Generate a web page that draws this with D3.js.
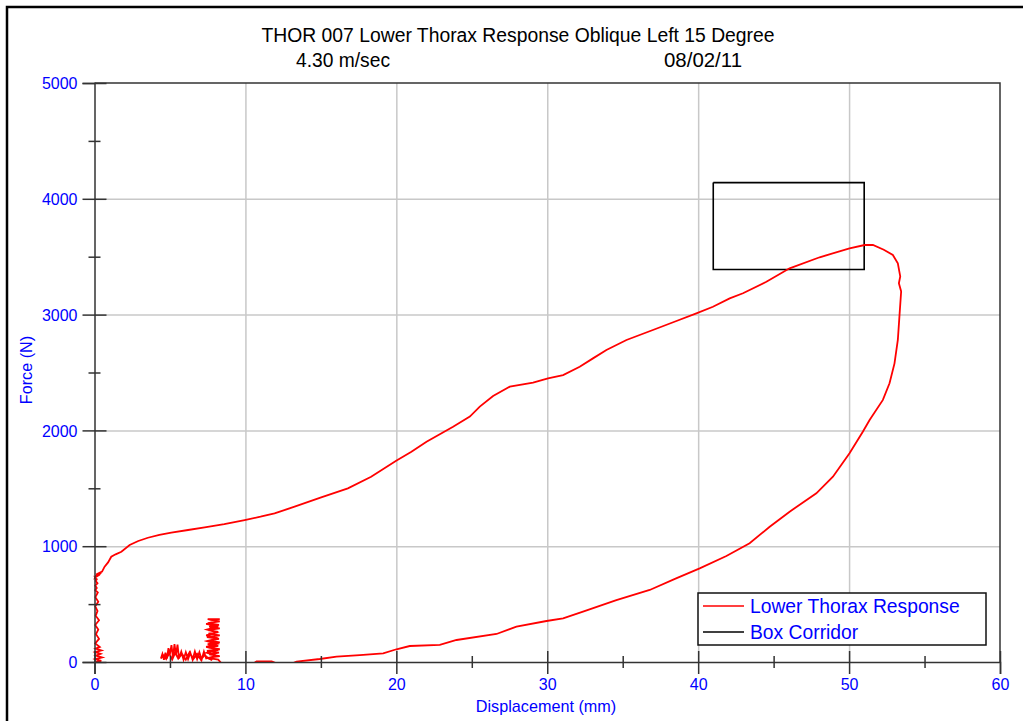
<!DOCTYPE html>
<html>
<head>
<meta charset="utf-8">
<script src="https://cdn.jsdelivr.net/npm/d3@7"></script>
<style>
  html, body { margin: 0; padding: 0; background: #ffffff; }
  svg { display: block; }
</style>
</head>
<body>
<div id="chart"></div>
<script>
// ---------------- data ----------------
const titleText = "THOR 007 Lower Thorax Response Oblique Left 15 Degree";
const subLeft = "4.30 m/sec";
const subRight = "08/02/11";
const xLabel = "Displacement (mm)";
const yLabel = "Force (N)";
const seriesNames = ["Lower Thorax Response", "Box Corridor"];
const seriesColors = ["#ff0000", "#000000"];

const xMajorTicks = [0, 10, 20, 30, 40, 50, 60];
const xMinorTicks = [5, 15, 25, 35, 45, 55];
const yMajorTicks = [0, 1000, 2000, 3000, 4000, 5000];
const yMinorTicks = [500, 1500, 2500, 3500, 4500];

// Lower thorax response (displacement mm, force N)
const responseDisp = [
  // noisy start near zero displacement
  0.10,0.45,0.05,0.50,0.10,0.40,0.05,0.45,0.08,0.35,0.05,0.30,0.10,0.25,0.05,0.30,0.08,0.20,0.05,0.25,
  0.06,0.22,0.05,0.15,0.05,0.20,0.08,0.15,0.05,0.12,0.05,0.10,0.05,0.35,0.05,0.40,0.10,0.45,0.10,0.50,
  // loading
  0.67,0.90,1.11,1.40,1.78,2.33,2.90,3.54,4.30,5.09,6.20,7.30,8.60,
  9.95,11.00,11.93,13.26,15.02,16.79,18.33,19.99,21.00,22.00,23.76,24.87,25.53,26.41,27.52,29.06,30.05,31.05,32.15,33.03,
  33.92,35.25,37.00,38.56,39.88,40.98,42.09,42.97,44.52,46.06,48.05,50.03,51.03,51.58,52.30,52.90,53.23,53.39,53.30,53.45,
  // unloading
  53.35,53.23,53.01,52.68,52.24,51.36,50.91,50.03,48.93,47.83,46.06,44.74,43.41,41.87,40.10,38.50,36.79,34.58,32.37,31.05,
  29.95,27.96,26.64,23.99,22.88,20.89,20.01,19.13,17.58,16.04,14.93,13.39,12.60,11.74,10.74,10.20,8.60,
  // noisy tail: vertical band
  8.20,7.50,8.30,7.60,8.25,7.45,8.30,7.55,8.20,7.50,8.30,7.60,8.25,7.45,8.30,7.55,8.20,7.50,8.30,7.60,
  8.25,7.50,8.30,7.60,8.30,7.50,8.10,7.40,8.20,7.45,8.10,7.40,8.20,7.45,8.10,7.40,8.20,7.45,8.10,7.40,
  // horizontal band leftwards
  7.25,7.10,6.95,6.80,6.65,6.50,6.35,6.20,6.05,5.90,5.75,5.60,5.50,5.40,5.30,5.20,5.10,5.00,4.90,4.80,
  4.70,4.60,4.50,4.40,
  // back rightwards
  4.55,4.75,4.95,5.15,5.35,5.55,5.80,6.05,6.30,6.55,6.80,7.05,7.30,7.55,7.80
];
const responseForce = [
  0,10,25,40,55,70,85,100,115,130,160,200,240,280,320,360,400,440,480,520,
  560,600,620,640,660,680,700,715,725,700,735,745,730,755,740,760,745,770,755,780,
  823,860,909,930,952,1010,1045,1073,1098,1117,1140,1163,1190,
  1226,1255,1284,1341,1422,1500,1600,1738,1815,1902,2032,2119,2205,2297,2378,2412,2450,2478,2550,2622,
  2694,2781,2867,2945,3011,3068,3140,3184,3284,3400,3495,3572,3601,3601,3560,3515,3443,3330,3270,3200,
  3011,2781,2579,2407,2263,2090,1989,1802,1600,1457,1298,1168,1025,915,809,720,622,535,435,377,
  354,305,242,190,147,138,110,75,60,46,26,3,-40,5,5,-40,-40,
  20,35,50,65,80,95,110,125,140,155,170,185,200,215,230,245,260,275,290,305,
  320,335,350,365,371,371,355,330,305,280,255,230,205,180,155,130,105,80,55,30,
  90,20,85,25,90,20,80,25,85,20,90,30,150,60,155,40,145,70,120,30,
  80,20,70,30,
  60,25,75,20,80,30,70,20,85,25,70,20,60,30,15
];

// Box corridor corners
const boxDisp = [41, 51, 51, 41, 41];
const boxForce = [4140, 4140, 3390, 3390, 4140];

// ---------------- layout ----------------
const W = 1023, H = 721;
const x = d3.scaleLinear().domain([0, 60]).range([94.5, 1000]);
const y = d3.scaleLinear().domain([0, 5000]).range([662, 83]);

const svg = d3.select("#chart").append("svg")
  .attr("width", W).attr("height", H)
  .style("background", "#fff");

const BLUE = "#0000ff";
const FONT = "'Liberation Sans', Arial, sans-serif";

// outer frame (top and left edges)
svg.append("path")
  .attr("d", `M7,${H} L7,7 L${W},7`)
  .attr("fill", "none").attr("stroke", "#000").attr("stroke-width", 2.5);

// title
svg.append("text")
  .attr("x", 518).attr("y", 42)
  .attr("text-anchor", "middle")
  .attr("font-family", FONT).attr("font-size", 19.5)
  .attr("textLength", 513).attr("lengthAdjust", "spacingAndGlyphs")
  .attr("fill", "#000").text(titleText);
svg.append("text")
  .attr("x", 343).attr("y", 67).attr("text-anchor", "middle")
  .attr("font-family", FONT).attr("font-size", 19.5)
  .attr("textLength", 94).attr("lengthAdjust", "spacingAndGlyphs")
  .attr("fill", "#000").text(subLeft);
svg.append("text")
  .attr("x", 703).attr("y", 67).attr("text-anchor", "middle")
  .attr("font-family", FONT).attr("font-size", 19.5)
  .attr("textLength", 78).attr("lengthAdjust", "spacingAndGlyphs")
  .attr("fill", "#000").text(subRight);

// grid lines
const gx = svg.append("g").attr("transform", `translate(0,${y(0)})`)
  .call(d3.axisBottom(x).tickValues(xMajorTicks.slice(1, -1)).tickSize(-(y(0) - y(5000))).tickFormat(""));
gx.select(".domain").remove();
gx.selectAll(".tick line").attr("stroke", "#c8c8c8").attr("stroke-width", 1.5);

const gy = svg.append("g").attr("transform", `translate(${x(0)},0)`)
  .call(d3.axisLeft(y).tickValues(yMajorTicks.slice(1, -1)).tickSize(-(x(60) - x(0))).tickFormat(""));
gy.select(".domain").remove();
gy.selectAll(".tick line").attr("stroke", "#c8c8c8").attr("stroke-width", 1.5);

// plot frame top and right
svg.append("path")
  .attr("d", `M${x(0)},${y(5000)} L${x(60)},${y(5000)} L${x(60)},${y(0)}`)
  .attr("fill", "none").attr("stroke", "#333").attr("stroke-width", 1.5);

// clip
svg.append("clipPath").attr("id", "plotclip").append("rect")
  .attr("x", x(0) - 2).attr("y", y(5000)).attr("width", x(60) - x(0) + 2).attr("height", y(0) - y(5000));

// series
const lineGen = d3.line().x(d => x(d[0])).y(d => y(d[1]));
const respData = responseDisp.map((d, i) => [d, responseForce[i]]);
const boxData = boxDisp.map((d, i) => [d, boxForce[i]]);

const plot = svg.append("g").attr("clip-path", "url(#plotclip)");
plot.append("path").datum(boxData).attr("d", lineGen)
  .attr("fill", "none").attr("stroke", seriesColors[1]).attr("stroke-width", 1.6);
plot.append("path").datum(respData).attr("d", lineGen)
  .attr("fill", "none").attr("stroke", seriesColors[0]).attr("stroke-width", 1.8)
  .attr("stroke-linejoin", "miter");

// x axis
const xAxis = svg.append("g").attr("transform", `translate(0,${y(0)})`)
  .call(d3.axisBottom(x).tickValues(xMajorTicks).tickFormat(d3.format("d")).tickSize(12));
xAxis.select(".domain").attr("stroke", "#333").attr("stroke-width", 1.5);
xAxis.selectAll(".tick line").attr("stroke", "#333").attr("stroke-width", 1.5).attr("y1", -11).attr("y2", 12);
xAxis.selectAll(".tick text").attr("y", 28).attr("dy", 0)
  .attr("fill", BLUE).attr("font-family", FONT).attr("font-size", 16);
const xMinor = svg.append("g").attr("transform", `translate(0,${y(0)})`)
  .call(d3.axisBottom(x).tickValues(xMinorTicks).tickFormat("").tickSize(6));
xMinor.select(".domain").remove();
xMinor.selectAll(".tick line").attr("stroke", "#333").attr("stroke-width", 1.5).attr("y1", -6).attr("y2", 6);

// y axis
const yAxis = svg.append("g").attr("transform", `translate(${x(0)},0)`)
  .call(d3.axisLeft(y).tickValues(yMajorTicks).tickFormat(d3.format("d")).tickSize(12));
yAxis.select(".domain").attr("stroke", "#333").attr("stroke-width", 1.5);
yAxis.selectAll(".tick line").attr("stroke", "#333").attr("stroke-width", 1.5).attr("x1", 12).attr("x2", -12);
yAxis.selectAll(".tick text").attr("x", -17).attr("dy", "0.36em")
  .attr("fill", BLUE).attr("font-family", FONT).attr("font-size", 16);
const yMinor = svg.append("g").attr("transform", `translate(${x(0)},0)`)
  .call(d3.axisLeft(y).tickValues(yMinorTicks).tickFormat("").tickSize(6));
yMinor.select(".domain").remove();
yMinor.selectAll(".tick line").attr("stroke", "#333").attr("stroke-width", 1.5).attr("x1", 6).attr("x2", -6);

// axis titles
svg.append("text").attr("x", 546).attr("y", 712).attr("text-anchor", "middle")
  .attr("font-family", FONT).attr("font-size", 16.2).attr("fill", BLUE).text(xLabel);
svg.append("text").attr("transform", "translate(32,370) rotate(-90)").attr("text-anchor", "middle")
  .attr("font-family", FONT).attr("font-size", 16.2).attr("fill", BLUE).text(yLabel);

// legend
const lg = svg.append("g");
lg.append("rect").attr("x", 698).attr("y", 593).attr("width", 288).attr("height", 52)
  .attr("fill", "#fff").attr("stroke", "#111").attr("stroke-width", 1.5);
seriesNames.forEach((name, i) => {
  const yy = 606 + i * 26;
  lg.append("line").attr("x1", 703).attr("x2", 744).attr("y1", yy).attr("y2", yy)
    .attr("stroke", seriesColors[i]).attr("stroke-width", 1.5);
  lg.append("text").attr("x", 750).attr("y", yy + 7)
    .attr("font-family", FONT).attr("font-size", 19.3).attr("fill", BLUE).text(name);
});
</script>
</body>
</html>
